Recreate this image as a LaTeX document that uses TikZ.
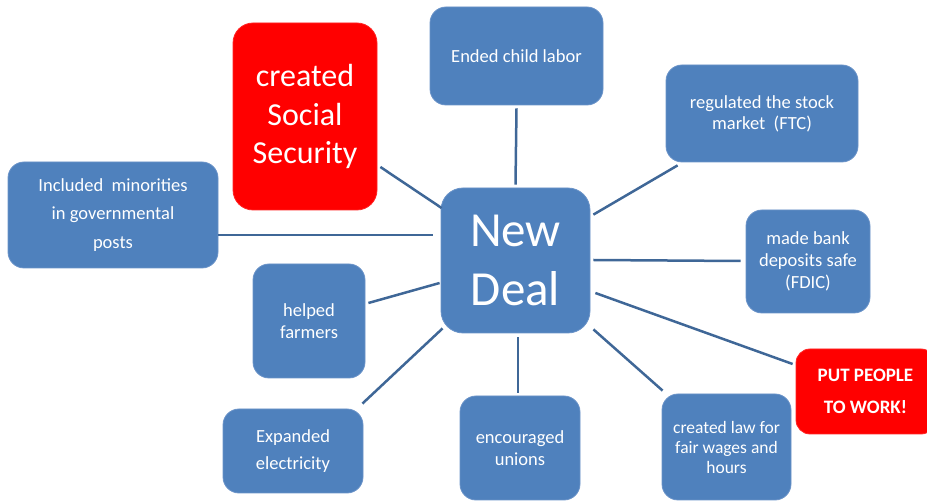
\documentclass[tikz,border=0pt]{standalone}
\usepackage{fontspec}
\setmainfont{Carlito}
\definecolor{boxblue}{HTML}{4F81BD}
\definecolor{boxedge}{HTML}{6A93C8}
\definecolor{linkblue}{HTML}{3F6797}
\definecolor{hotred}{HTML}{FF0000}
\begin{document}
\begin{tikzpicture}[x=1pt,y=-1pt,
  bx/.style={draw=boxedge,line width=0.8pt,fill=boxblue,rounded corners=16pt,text=white,align=center,inner sep=0pt,font=\fontsize{18.5}{22}\selectfont},
  rbx/.style={bx,fill=hotred,draw=hotred!85!white},
  link/.style={draw=linkblue,line width=2.5pt}]
\useasboundingbox (0,0) rectangle (927,502);
% boxes
\node[bx,rounded corners=22pt,minimum width=149pt,minimum height=145pt,font=\fontsize{49}{59}\selectfont] (nd) at (515.5,260.5) {New\\Deal};
\node[rbx,rounded corners=20pt,minimum width=144pt,minimum height=187pt,font=\fontsize{32}{38.5}\selectfont] (ss) at (305,116.5) {created\\Social\\Security};
\node[bx,minimum width=173pt,minimum height=98pt] (cl) at (516.5,56) {Ended child labor};
\node[bx,minimum width=192pt,minimum height=97pt,font=\fontsize{18.5}{21}\selectfont] (rs) at (762,113.5) {regulated the stock\\market\ \ (FTC)};
\node[bx,minimum width=124pt,minimum height=103pt,font=\fontsize{18.5}{22}\selectfont] (bk) at (808,261.5) {made bank\\deposits\ safe\\(FDIC)};
\node[rbx,rounded corners=14pt,minimum width=139pt,minimum height=85pt,font=\bfseries\fontsize{19}{28}\selectfont] (pp) at (865.5,391.5) {\raisebox{4pt}{\begin{tabular}{@{}c@{}}PUT PEOPLE\\[4pt]TO WORK!\end{tabular}}};
\node[bx,minimum width=129pt,minimum height=106pt,font=\fontsize{17.5}{20}\selectfont] (lw) at (726.5,447) {created law for\\fair wages and\\hours};
\node[bx,minimum width=120pt,minimum height=104pt] (un) at (520,448) {encouraged\\unions};
\node[bx,minimum width=140pt,minimum height=84pt,font=\fontsize{18.5}{27}\selectfont] (el) at (293,451) {Expanded\\electricity};
\node[bx,minimum width=112pt,minimum height=114pt] (hf) at (309,321) {helped\\farmers};
\node[bx,minimum width=210pt,minimum height=106pt,font=\fontsize{18.5}{28.5}\selectfont] (mi) at (113,215) {Included\ \ minorities\\in governmental\\posts};
% connectors
\draw[link] ([xshift=3pt,yshift=-50.5pt]ss.east) -- ([xshift=1pt,yshift=52.5pt]nd.west);
\draw[link] ([yshift=-20pt]mi.east) -- ([xshift=-8pt,yshift=25.5pt]nd.west);
\draw[link] ([yshift=-3pt]cl.south) -- ([yshift=3pt]nd.north);
\draw[link] ([xshift=12pt,yshift=-3pt]rs.south west) -- ([xshift=3pt,yshift=-27pt]nd.north east);
\draw[link] ([xshift=-5pt,yshift=0.5pt]bk.west) -- ([xshift=3pt,yshift=0.5pt]nd.east);
\draw[link] ([xshift=-3pt,yshift=27.5pt]pp.west) -- ([xshift=5pt,yshift=-32.5pt]nd.east);
\draw[link] ([xshift=1pt,yshift=3pt]lw.north west) -- ([xshift=3pt,yshift=4pt]nd.south east);
\draw[link] ([xshift=-2pt,yshift=3pt]un.north) -- ([xshift=2.5pt,yshift=-4pt]nd.south);
\draw[link] ([xshift=3pt,yshift=18pt]hf.east) -- ([xshift=-1pt,yshift=-22.5pt]nd.west);
\draw[link] ([xshift=-1pt,yshift=5pt]el.north east) -- ([xshift=2pt,yshift=5pt]nd.south west);
\end{tikzpicture}
\end{document}
